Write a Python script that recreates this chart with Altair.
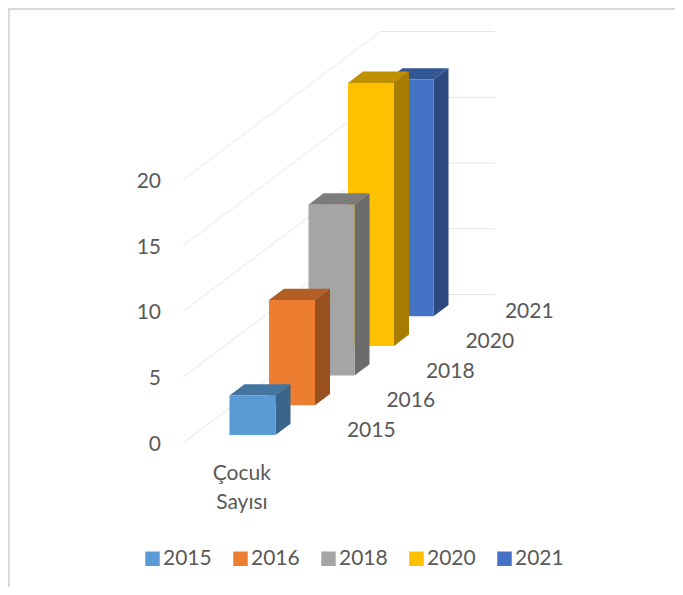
import altair as alt
import pandas as pd

# ---- values
years = ["2015", "2016", "2018", "2020", "2021"]
values = [3, 8, 13, 20, 18]
y_ticks = [0, 5, 10, 15, 20]
category_label = "Çocuk\nSayısı"
front_colors = ["#5B9BD5", "#ED7D31", "#A5A5A5", "#FFC000", "#4472C4"]
top_colors = ["#4474A0", "#B25E25", "#7C7C7C", "#BF9000", "#335694"]
side_colors = ["#3B658A", "#9A5120", "#6B6B6B", "#A67D00", "#2C4A7F"]

# ---- oblique projection: depth moves a point right and up
W, H = 667, 579
UNIT_X = 39.5      # px per depth slot
UNIT_Y = 13.15     # px per value unit
RISE = 29.7 / UNIT_Y   # value-units of rise per depth slot
ORIGIN_X, ORIGIN_Y = 183 - 8, 443 - 8
DEPTH = 5
BACK_WIDTH = 2.89
BAR_LEFT = 0.907
BAR_WIDTH = 1.165
BAR_FRONT = 0.27
BAR_DEPTH = 0.38

x_scale = alt.Scale(domain=[-ORIGIN_X / UNIT_X, (W - ORIGIN_X) / UNIT_X], nice=False, zero=False)
y_scale = alt.Scale(domain=[(ORIGIN_Y - H) / UNIT_Y, ORIGIN_Y / UNIT_Y], nice=False, zero=False)
X = alt.X("x:Q", scale=x_scale, axis=None)
Y = alt.Y("y:Q", scale=y_scale, axis=None)
color_scale = alt.Scale(domain=years, range=front_colors)


def px(depth, across):
    return depth + across


def py(depth, value):
    return value + depth * RISE


# ---- wall gridlines
wall = []
for v in y_ticks:
    for d, a in [(0, 0), (DEPTH, 0), (DEPTH, BACK_WIDTH)]:
        wall.append({"tick": v, "x": px(d, a), "y": py(d, v)})
grid = alt.Chart(pd.DataFrame(wall)).mark_line(color="#E6E6E6", strokeWidth=1).encode(
    x=X, y=Y, detail="tick:N"
)

layers = [grid]

# ---- the bars, back to front
for i in reversed(range(len(years))):
    v = values[i]
    d0 = i + BAR_FRONT
    d1 = d0 + BAR_DEPTH
    left = BAR_LEFT
    right = BAR_LEFT + BAR_WIDTH

    side = pd.DataFrame([
        {"x": px(d0, right), "y": py(d0, 0), "y2": py(d0, v)},
        {"x": px(d1, right), "y": py(d1, 0), "y2": py(d1, v)},
    ])
    layers.append(alt.Chart(side).mark_area(color=side_colors[i], opacity=1).encode(
        x=X, y=Y, y2="y2:Q"))

    top = pd.DataFrame([
        {"y": py(d0, v), "x": px(d0, left), "x2": px(d0, right)},
        {"y": py(d1, v), "x": px(d1, left), "x2": px(d1, right)},
    ])
    layers.append(alt.Chart(top).mark_area(color=top_colors[i], opacity=1, orient="horizontal").encode(
        y=Y, x=X, x2="x2:Q"))

    front = pd.DataFrame([{
        "year": years[i], "x": px(d0, left), "x2": px(d0, right),
        "y": py(d0, 0), "y2": py(d0, v),
    }])
    layers.append(alt.Chart(front).mark_rect(opacity=1).encode(
        x=X, x2="x2:Q", y=Y, y2="y2:Q",
        color=alt.Color("year:N", scale=color_scale, legend=alt.Legend(
            orient="none", legendX=134, legendY=540, direction="horizontal", title=None,
            symbolType="square", symbolSize=210, symbolStrokeWidth=0, symbolOpacity=1,
            labelFont="Lato", labelFontSize=21, labelColor="#595959",
            columnPadding=18, labelOffset=0, padding=0,
        )),
    ))

# ---- text
FONT = dict(font="Lato", fontSize=21, color="#595959")
tick_df = pd.DataFrame({"x": [-22 / UNIT_X] * len(y_ticks), "y": [t - 0.15 for t in y_ticks],
                        "t": [str(t) for t in y_ticks]})
layers.append(alt.Chart(tick_df).mark_text(align="right", baseline="middle", **FONT).encode(
    x=X, y=Y, text="t:N"))

depth_df = pd.DataFrame({"x": [px(i, 4.15) for i in range(len(years))],
                         "y": [py(i, 0.92) for i in range(len(years))], "t": years})
layers.append(alt.Chart(depth_df).mark_text(align="left", baseline="middle", **FONT).encode(
    x=X, y=Y, text="t:N"))

cat_df = pd.DataFrame({"x": [1.49], "y": [-2.36], "t": [category_label]})
layers.append(alt.Chart(cat_df).mark_text(align="center", baseline="middle", lineBreak="\n",
                                          lineHeight=29, **FONT).encode(x=X, y=Y, text="t:N"))

# ---- frame of the original picture, left and top edges
layers.append(alt.Chart(pd.DataFrame({"a": [0]})).mark_rule(color="#D9D9D9", strokeWidth=2).encode(
    x=alt.value(1), y=alt.value(0), y2=alt.value(H)))
layers.append(alt.Chart(pd.DataFrame({"a": [0]})).mark_rule(color="#D9D9D9", strokeWidth=2).encode(
    y=alt.value(1), x=alt.value(0), x2=alt.value(W)))

chart = alt.layer(*layers).properties(
    width=W, height=H, padding=0, autosize=alt.AutoSizeParams(type="none"), background="white"
).configure_view(stroke=None)

chart.save("out.html", embed_options={"renderer": "svg", "actions": False})
